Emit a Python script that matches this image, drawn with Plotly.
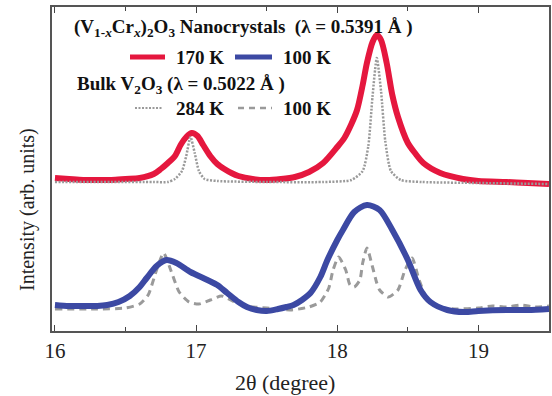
import plotly.graph_objects as go

# ---------------- data ----------------
# Nanocrystals, 170 K (red)
x_nano_170 = [16.00, 16.10, 16.20, 16.30, 16.40, 16.50, 16.60, 16.70, 16.75, 16.80, 16.85, 16.89,
              16.93, 16.97, 17.01, 17.05, 17.10, 17.15, 17.20, 17.25, 17.30, 17.40, 17.50, 17.60,
              17.70, 17.80, 17.90, 18.00, 18.05, 18.10, 18.14, 18.18, 18.21, 18.25, 18.28, 18.31,
              18.35, 18.39, 18.43, 18.50, 18.55, 18.61, 18.73, 18.89, 19.00, 19.20, 19.35, 19.50]
y_nano_170 = [153, 152, 151, 151, 151, 152, 153, 157, 162, 168, 175, 186,
              194, 198, 195, 186, 175, 167, 162, 158, 155, 152, 151, 152,
              154, 159, 168, 184, 193, 207, 221, 246, 268, 289, 296, 291,
              268, 236, 214, 188, 178, 168, 158, 152, 150, 149, 148, 147]

# Nanocrystals, 100 K (blue)
x_nano_100 = [16.00, 16.10, 16.20, 16.30, 16.37, 16.45, 16.53, 16.60, 16.65, 16.72, 16.79, 16.86,
              16.96, 17.08, 17.15, 17.22, 17.30, 17.36, 17.43, 17.50, 17.58, 17.64, 17.69, 17.75,
              17.81, 17.88, 17.93, 18.00, 18.04, 18.12, 18.21, 18.30, 18.39, 18.50, 18.59, 18.66,
              18.78, 18.90, 19.00, 19.20, 19.35, 19.50]
y_nano_100 = [26, 25, 25, 25, 26, 29, 35, 44, 53, 65, 71, 68,
              59, 51, 46, 38, 29, 24, 21, 20, 22, 24, 26, 31,
              38, 54, 71, 91, 101, 119, 126, 121, 101, 71, 41, 29,
              21, 19, 20, 21, 21, 22]

# Bulk V2O3, 284 K (grey dotted)
x_bulk_284 = [16.00, 16.40, 16.70, 16.80, 16.85, 16.90, 16.93, 16.96, 16.99, 17.02, 17.06, 17.15,
              17.50, 17.90, 18.10, 18.18, 18.22, 18.25, 18.28, 18.31, 18.34, 18.38, 18.45, 18.60,
              19.00, 19.50]
y_bulk_284 = [149, 149, 149, 149, 152, 160, 175, 194, 178, 160, 152, 150,
              149, 149, 151, 160, 185, 235, 273, 240, 190, 160, 151, 149,
              148, 147]

# Bulk V2O3, 100 K (grey dashed)
x_bulk_100 = [16.00, 16.30, 16.50, 16.60, 16.66, 16.72, 16.77, 16.82, 16.88, 16.95, 17.02, 17.10,
              17.18, 17.26, 17.35, 17.50, 17.67, 17.80, 17.88, 17.94, 17.97, 18.01, 18.06, 18.09,
              18.12, 18.16, 18.18, 18.21, 18.25, 18.28, 18.30, 18.36, 18.43, 18.48, 18.53, 18.58,
              18.64, 18.71, 18.85, 19.00, 19.10, 19.20, 19.30, 19.40, 19.50]
y_bulk_100 = [22, 22, 23, 27, 36, 61, 78, 61, 39, 29, 27, 31,
              35, 30, 25, 23, 21, 24, 29, 43, 61, 74, 61, 46,
              44, 51, 68, 83, 64, 48, 41, 34, 41, 61, 73, 51,
              31, 24, 22, 23, 25, 24, 26, 24, 25]

x_ticks = [16, 17, 18, 19]
x_tick_labels = ["16", "17", "18", "19"]

# ---------------- styling ----------------
RED = "#e5173e"
BLUE = "#3c49a3"
GREY = "#9a9a9a"
SERIF = "Liberation Serif, Times New Roman, serif"

W, H = 552, 396
L, R, T, B = 52, 3, 7, 65
PW, PH = W - L - R, H - T - B


def px(xp):
    return (xp - L) / PW


def py(yp):
    return (H - B - yp) / PH


fig = go.Figure()
fig.add_trace(go.Scatter(x=x_bulk_100, y=y_bulk_100, mode="lines",
                         line=dict(color=GREY, width=3, dash="7px,5px", shape="spline", smoothing=0.6),
                         name="Bulk 100 K", showlegend=False))
fig.add_trace(go.Scatter(x=x_nano_100, y=y_nano_100, mode="lines",
                         line=dict(color=BLUE, width=6, shape="spline", smoothing=0.8),
                         name="Nano 100 K", showlegend=False))
fig.add_trace(go.Scatter(x=x_nano_170, y=y_nano_170, mode="lines",
                         line=dict(color=RED, width=6, shape="spline", smoothing=0.8),
                         name="Nano 170 K", showlegend=False))
fig.add_trace(go.Scatter(x=x_bulk_284, y=y_bulk_284, mode="lines",
                         line=dict(color=GREY, width=2.5, dash="2px,1.5px", shape="spline", smoothing=0.6),
                         name="Bulk 284 K", showlegend=False))

# legend drawn manually
legend_lines = [
    (130, 165, 57, RED, 5, "solid"),
    (235, 272, 57, BLUE, 5, "solid"),
    (135, 163, 108, GREY, 2, "2px,1.5px"),
    (238, 272, 108, GREY, 2.5, "6px,5px"),
]
for x0, x1, yy, c, w, d in legend_lines:
    fig.add_shape(type="line", xref="paper", yref="paper",
                  x0=px(x0), x1=px(x1), y0=py(yy), y1=py(yy),
                  line=dict(color=c, width=w, dash=d))

bold_font = dict(family=SERIF, size=19, color="#111")
annots = [
    (72, 28, "<b>(V<sub>1-<i>x</i></sub>Cr<sub><i>x</i></sub>)<sub>2</sub>O<sub>3</sub> Nanocrystals  (λ = 0.5391 Å )</b>"),
    (174, 57, "<b>170 K</b>"),
    (281, 57, "<b>100 K</b>"),
    (75, 85, "<b>Bulk V<sub>2</sub>O<sub>3</sub> (λ = 0.5022 Å )</b>"),
    (174, 108, "<b>284 K</b>"),
    (281, 108, "<b>100 K</b>"),
]
for ax_, ay_, txt in annots:
    fig.add_annotation(x=px(ax_), y=py(ay_), xref="paper", yref="paper",
                       xanchor="left", yanchor="middle", text=txt, showarrow=False,
                       font=bold_font)

# axis titles
fig.add_annotation(x=px(285), y=py(382), xref="paper", yref="paper", text="2θ (degree)",
                   showarrow=False, xanchor="center", yanchor="middle",
                   font=dict(family=SERIF, size=22, color="#222"))
fig.add_annotation(x=px(27), y=py(210), xref="paper", yref="paper", text="Intensity (arb. units)",
                   showarrow=False, textangle=-90, xanchor="center", yanchor="middle",
                   font=dict(family=SERIF, size=20, color="#222"))

fig.update_layout(
    template="none",
    width=W, height=H,
    margin=dict(l=L, r=R, t=T, b=B, pad=0, autoexpand=False),
    paper_bgcolor="white", plot_bgcolor="white",
    showlegend=False,
    xaxis=dict(range=[15.979, 19.5], tickvals=x_ticks, ticktext=x_tick_labels, automargin=False,
               ticks="inside", ticklen=6, tickwidth=1.3, tickcolor="#444",
               minor=dict(dtick=0.5, tick0=16, ticks="inside", ticklen=4, tickwidth=1.2, tickcolor="#444"),
               showline=True, linecolor="#555", linewidth=1.5, mirror="allticks",
               showgrid=False, zeroline=False,
               tickfont=dict(family=SERIF, size=21, color="#222")),
    yaxis=dict(range=[0, 324], showticklabels=False, ticks="", automargin=False,
               showline=True, linecolor="#555", linewidth=1.5, mirror=True,
               showgrid=False, zeroline=False),
)

fig.write_html("out.html", config={"displayModeBar": False},
               post_script="document.body.style.margin='0';document.body.style.padding='0';"
                           "document.body.style.overflow='hidden';")
